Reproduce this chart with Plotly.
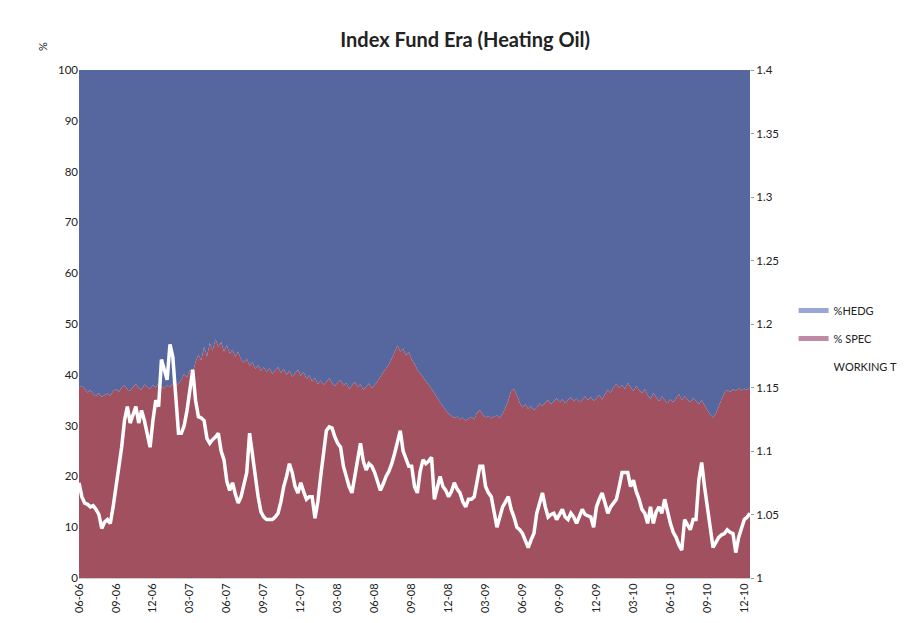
import pandas as pd
import plotly.graph_objs as go

# weekly COT report dates (Tuesdays)
start_date = "2006-06-13"

# % of open interest held by speculators
spec_pct = [
    37.5, 37.8, 37.2, 36.5, 37.0, 36.2, 35.8, 36.4, 35.6, 36.0,
    36.3, 35.9, 36.8, 37.2, 36.6, 37.5, 38.0, 37.1, 36.8, 37.6,
    38.2, 37.4, 37.0, 38.1, 37.6, 37.2, 38.0, 37.5, 38.4, 37.7,
    37.3, 38.0, 37.6, 38.5, 37.9, 38.3, 39.0, 40.2, 39.5, 41.0,
    40.4, 42.5, 44.0, 42.8, 45.5, 43.6, 46.2, 44.8, 47.0, 45.5,
    46.4, 44.6, 45.8, 44.2, 45.0, 43.5, 44.6, 43.0, 42.4, 43.2,
    41.8, 42.5, 41.2, 41.9, 40.8, 41.5, 40.6, 41.3, 40.2, 40.9,
    41.5, 40.4, 41.2, 40.0, 40.8, 39.6, 40.3, 41.0, 39.8, 40.5,
    39.2, 39.9, 38.7, 39.4, 38.2, 38.9, 38.0, 38.6, 39.3, 38.4,
    37.8, 38.5, 39.0, 37.9, 38.4, 37.2, 37.9, 38.6, 37.6, 38.2,
    37.0, 37.7, 38.3, 37.4, 38.0, 38.8, 39.6, 40.5, 41.3, 42.0,
    43.2, 44.5, 45.8, 44.6, 45.2, 43.8, 44.5, 43.0, 42.2, 41.0,
    40.3, 39.5, 38.8, 38.0, 37.2, 36.4, 35.5, 34.6, 33.8, 33.0,
    32.4, 31.9, 31.5, 31.8, 31.2, 31.6, 31.0, 31.4, 31.7, 31.2,
    32.5, 33.0, 32.2, 31.6, 31.9, 31.4, 31.8, 32.0, 31.5, 32.4,
    33.5, 35.0, 36.8, 37.2, 36.0, 34.5, 33.6, 34.2, 33.2, 33.8,
    33.0, 33.5, 34.4, 33.8, 34.6, 35.0, 34.2, 34.8, 35.4, 34.6,
    35.2, 34.4, 35.0, 35.6, 34.8, 35.3, 34.6, 35.1, 35.8, 35.0,
    35.6, 34.9, 35.4, 36.0, 35.2, 36.2, 37.0, 36.4, 37.6, 38.2,
    37.4, 38.0, 37.2, 38.4, 37.6, 36.8, 37.8, 37.0, 36.4, 37.2,
    36.0, 35.2, 36.4, 35.6, 34.8, 35.8, 35.0, 34.4, 35.2, 34.6,
    35.4, 36.2, 35.0, 35.8, 35.2, 34.6, 35.4, 34.8, 34.2, 35.0,
    34.0, 33.0, 32.2, 31.6, 32.4, 33.8, 35.2, 36.4, 37.0, 36.6,
    37.2, 36.8, 37.4, 36.9, 37.3, 37.0, 37.5,
]

# Working's T index (right axis)
working_t = [
    1.075, 1.064, 1.059, 1.058, 1.056, 1.057, 1.054, 1.050, 1.039, 1.044,
    1.046, 1.043, 1.056, 1.072, 1.088, 1.103, 1.124, 1.135, 1.122, 1.128,
    1.135, 1.122, 1.132, 1.124, 1.112, 1.103, 1.124, 1.140, 1.135, 1.172,
    1.164, 1.156, 1.184, 1.174, 1.144, 1.114, 1.114, 1.120, 1.132, 1.148,
    1.164, 1.140, 1.127, 1.126, 1.124, 1.110, 1.106, 1.109, 1.111, 1.114,
    1.100, 1.093, 1.076, 1.069, 1.075, 1.066, 1.059, 1.064, 1.074, 1.083,
    1.114, 1.096, 1.083, 1.064, 1.052, 1.048, 1.046, 1.046, 1.046, 1.048,
    1.051, 1.060, 1.072, 1.080, 1.090, 1.083, 1.072, 1.067, 1.075, 1.068,
    1.062, 1.064, 1.064, 1.047, 1.060, 1.080, 1.100, 1.116, 1.119, 1.118,
    1.111, 1.106, 1.103, 1.088, 1.080, 1.072, 1.067, 1.080, 1.090, 1.106,
    1.092, 1.085, 1.090, 1.088, 1.083, 1.076, 1.069, 1.074, 1.080, 1.084,
    1.090, 1.098, 1.108, 1.116, 1.100, 1.093, 1.088, 1.088, 1.072, 1.067,
    1.084, 1.093, 1.090, 1.092, 1.095, 1.062, 1.072, 1.080, 1.072, 1.069,
    1.064, 1.068, 1.075, 1.070, 1.067, 1.060, 1.056, 1.062, 1.062, 1.064,
    1.076, 1.088, 1.088, 1.072, 1.067, 1.064, 1.052, 1.040, 1.048, 1.056,
    1.060, 1.064, 1.054, 1.048, 1.040, 1.038, 1.035, 1.030, 1.024, 1.030,
    1.035, 1.051, 1.060, 1.067, 1.056, 1.048, 1.050, 1.051, 1.046, 1.050,
    1.054, 1.048, 1.046, 1.051, 1.048, 1.043, 1.048, 1.054, 1.050, 1.049,
    1.048, 1.040, 1.056, 1.062, 1.067, 1.059, 1.051, 1.056, 1.059, 1.062,
    1.072, 1.083, 1.083, 1.083, 1.072, 1.077, 1.068, 1.062, 1.054, 1.051,
    1.043, 1.056, 1.043, 1.052, 1.056, 1.051, 1.062, 1.052, 1.043, 1.036,
    1.032, 1.026, 1.022, 1.046, 1.042, 1.038, 1.046, 1.046, 1.077, 1.091,
    1.072, 1.056, 1.038, 1.024, 1.028, 1.032, 1.034, 1.035, 1.038, 1.036,
    1.035, 1.020, 1.032, 1.040, 1.046, 1.048, 1.051,
]

n = min(len(spec_pct), len(working_t))
spec_pct = spec_pct[:n]
working_t = working_t[:n]
hedg_pct = [round(100 - s, 1) for s in spec_pct]

dates = pd.date_range(start_date, periods=n, freq="7D")
x = [d.strftime("%Y-%m-%d") for d in dates]
tick_idx = list(range(0, n, 13))
tick_vals = [x[i] for i in tick_idx]
tick_text = [dates[i].strftime("%m-%y") for i in tick_idx]

blue = "#56679f"
red = "#a0505f"

fig = go.Figure()

fig.add_trace(go.Scatter(x=x, y=spec_pct, stackgroup="one", mode="none",
                         fillcolor=red, name="% SPEC", showlegend=False))
fig.add_trace(go.Scatter(x=x, y=hedg_pct, stackgroup="one", mode="none",
                         fillcolor=blue, name="%HEDG", showlegend=False))
fig.add_trace(go.Scatter(x=x, y=working_t, yaxis="y2", mode="lines",
                         line=dict(color="white", width=3.5), name="WORKING T",
                         showlegend=False))

# legend entries (Excel style swatches)
fig.add_trace(go.Scatter(x=[None], y=[None], mode="lines", legendgroup="a",
                         line=dict(color="#9aa6d6", width=5), name="%HEDG"))
fig.add_trace(go.Scatter(x=[None], y=[None], mode="lines", legendgroup="b",
                         line=dict(color="#c08aa6", width=5), name="% SPEC"))
fig.add_trace(go.Scatter(x=[None], y=[None], mode="lines", legendgroup="c",
                         line=dict(color="rgba(255,255,255,0)", width=5), name="WORKING T"))

# note: page body adds 8px, so margins are shifted to keep the plot box in place
fig.update_layout(
    width=907, height=623,
    margin=dict(l=71, r=165, t=62, b=53, autoexpand=False),
    paper_bgcolor="white", plot_bgcolor="white",
    font=dict(family="Lato, Open Sans, sans-serif", size=12, color="#222"),
    title=dict(text="<b>Index Fund Era (Heating Oil)</b>", x=0.504, xanchor="center",
               y=0.949, yanchor="middle", font=dict(size=20, color="#222")),
    xaxis=dict(type="category", range=[0, n - 1], tickmode="array",
               tickvals=tick_vals, ticktext=tick_text, tickangle=-90,
               showgrid=False, zeroline=False, automargin=False,
               tickfont=dict(size=11), ticks="", showline=True, linecolor="#ccc"),
    yaxis=dict(range=[0, 100], dtick=10, showgrid=False, zeroline=False,
               automargin=False, tickfont=dict(size=11.5), ticks=""),
    yaxis2=dict(range=[1, 1.4], dtick=0.05, overlaying="y", side="right",
                showgrid=False, zeroline=False, automargin=False,
                tickfont=dict(size=11.5), ticks="outside", ticklen=3,
                tickcolor="#999"),
    legend=dict(x=1.065, y=0.555, xanchor="left", yanchor="top",
                traceorder="grouped",
                font=dict(size=11), bgcolor="rgba(0,0,0,0)",
                tracegroupgap=9, itemwidth=30),
    annotations=[dict(text="%", xref="paper", yref="paper", x=-0.068, y=1.06,
                      showarrow=False, textangle=-90, font=dict(size=11))],
)

fig.write_html("out.html")
